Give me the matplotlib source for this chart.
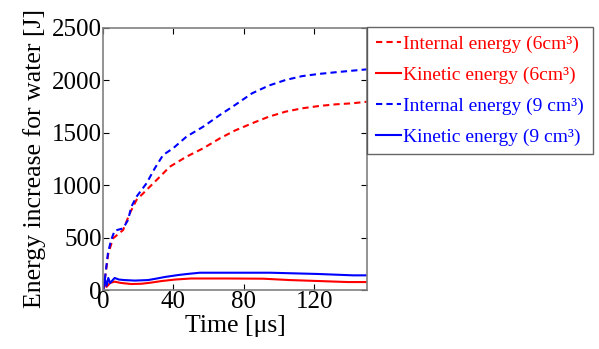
import matplotlib
matplotlib.use("Agg")
import matplotlib.pyplot as plt

plt.rcParams['font.family'] = ['Liberation Serif', 'DejaVu Serif']

# Internal energy (6 cm3) - red dashed
t_int6 = [0, 1, 3, 5.7, 11.4, 15.2, 19, 24.7, 30.4, 37.9, 47.4, 56.9, 66.4, 75,
          84.6, 94.1, 103.6, 113, 122.5, 132, 141.5, 150]
e_int6 = [0, 100, 350, 493, 572, 732, 859, 954, 1049, 1176, 1272, 1352, 1447, 1522,
          1590, 1653, 1701, 1733, 1755, 1771, 1781, 1796]

# Internal energy (9 cm3) - blue dashed
t_int9 = [0, 1, 2.8, 4.6, 6.6, 11.4, 14.2, 16.1, 19, 24.7, 29.4, 34.1, 39.8, 47.4,
          56.9, 66.4, 75, 84.6, 94.1, 103.6, 113, 122.5, 132, 141.5, 150]
e_int9 = [0, 95, 353, 477, 566, 588, 668, 795, 890, 1018, 1161, 1288, 1352, 1463,
          1558, 1670, 1765, 1876, 1950, 2003, 2040, 2061, 2077, 2092, 2105]

# Kinetic energy (6 cm3) - red solid
t_kin6 = [0, 1, 2, 4, 6.6, 10, 16, 22, 27, 33, 41, 50, 70, 91, 106, 122, 139, 150]
e_kin6 = [0, 60, 30, 67, 80, 68, 57, 60, 70, 85, 100, 110, 110, 108, 95, 86, 76, 76]

# Kinetic energy (9 cm3) - blue solid
t_kin9 = [0, 1, 2, 3, 4, 6.6, 9, 12, 18, 25.6, 30, 35, 42.7, 47.8, 55, 95, 122, 142, 150]
e_kin9 = [0, 110, 40, 115, 67, 115, 100, 95, 90, 95, 108, 124, 143, 153, 165, 165, 153, 140, 140]

fig = plt.figure(figsize=(5.99, 3.49), dpi=100)
ax = fig.add_axes([0.172, 0.169, 0.441, 0.751])

l1, = ax.plot(t_int6, e_int6, color='#ff0000', ls=(0, (3, 2)), lw=1.5, label='Internal energy (6cm³)')
l2, = ax.plot(t_kin6, e_kin6, color='#ff0000', ls='-', lw=1.5, label='Kinetic energy (6cm³)')
l3, = ax.plot(t_int9, e_int9, color='#0000ff', ls=(0, (3, 2)), lw=1.5, label='Internal energy (9 cm³)')
l4, = ax.plot(t_kin9, e_kin9, color='#0000ff', ls='-', lw=1.5, label='Kinetic energy (9 cm³)')

ax.set_xlim(0, 150)
ax.set_ylim(0, 2500)
ax.set_xticks([0, 40, 80, 120])
ax.set_yticks([0, 500, 1000, 1500, 2000, 2500])
ax.tick_params(direction='in', top=True, right=True, labelsize=18, length=4, pad=1)
for s in ax.spines.values():
    s.set_color('#808080')
    s.set_linewidth(1.2)

ax.set_xlabel('Time [μs]', fontsize=18.5, labelpad=1)
ax.set_ylabel('Energy increase for water [J]', fontsize=18.5, labelpad=4)

leg = ax.legend(handles=[l1, l2, l3, l4], loc='upper left', bbox_to_anchor=(1.0, 1.005),
                fontsize=14, frameon=True, fancybox=False, handlelength=1.3,
                handletextpad=0.1, borderaxespad=0, labelspacing=0.68, borderpad=0.45)
leg.get_frame().set_edgecolor('#404040')
leg.get_frame().set_linewidth(1.0)
for txt, ln in zip(leg.get_texts(), [l1, l2, l3, l4]):
    txt.set_color(ln.get_color())

fig.savefig('out.png', dpi=100)
